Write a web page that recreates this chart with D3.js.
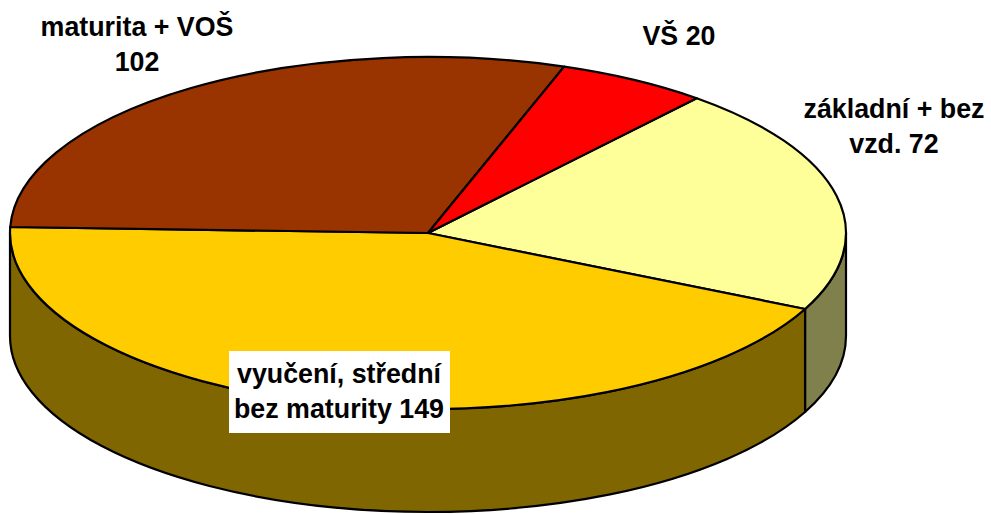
<!DOCTYPE html>
<html>
<head>
<meta charset="utf-8">
<script src="https://cdn.jsdelivr.net/npm/d3@7"></script>
<style>
  html, body { margin: 0; padding: 0; background: #fff; }
  svg { display: block; }
  .lbl { font-family: "Liberation Sans", Arial, sans-serif; font-weight: bold; font-size: 26.8px; fill: #000; }
</style>
</head>
<body>
<div id="chart"></div>
<script>
// data (sheet order)
var categories = ["základní + bez vzd.", "vyučení, střední bez maturity", "maturita + VOŠ", "VŠ"];
var values = [72, 149, 102, 20];
var topColors = ["#FFFF99", "#FFCC00", "#993300", "#FF0000"];
// label lines as shown on the chart
var labelLines = [
  ["základní + bez", "vzd. 72"],
  ["vyučení, střední", "bez maturity 149"],
  ["maturita + VOŠ", "102"],
  ["VŠ 20"]
];

var width = 991, height = 514;
var cx = 428, cy = 233, rx = 418, ry = 176, depth = 103;
var startDeg = 40;

// label anchor spots (centre x, first baseline y)
var labelPos = [[894, 118], [339, 383], [137, 36], [679, 45]];
var lineGap = 35;

var svg = d3.select("#chart").append("svg")
    .attr("width", width)
    .attr("height", height);

var pie = d3.pie().sort(null)
    .startAngle(startDeg * Math.PI / 180)
    .endAngle(startDeg * Math.PI / 180 + 2 * Math.PI);
var arcs = pie(values);

function px(a, dy) { return [cx + rx * Math.sin(a), cy - ry * Math.cos(a) + (dy || 0)]; }

// darker side colour (Excel uses ~50% shade)
function shade(c) {
  var col = d3.rgb(c);
  return d3.rgb(col.r * 0.5, col.g * 0.5, col.b * 0.5).formatHex();
}

// side walls - only the front half of the ellipse is visible
var walls = [];
arcs.forEach(function(d, i) {
  for (var k = 0; k < 2; k++) {
    var f0 = Math.PI / 2 + 2 * Math.PI * k, f1 = 3 * Math.PI / 2 + 2 * Math.PI * k;
    var b0 = Math.max(d.startAngle, f0), b1 = Math.min(d.endAngle, f1);
    if (b1 > b0) walls.push({i: i, b0: b0, b1: b1});
  }
});

svg.append("g").selectAll("path")
  .data(walls)
  .enter().append("path")
  .attr("d", function(w) {
    var t0 = px(w.b0), t1 = px(w.b1), u1 = px(w.b1, depth), u0 = px(w.b0, depth);
    return "M" + t0 + "A" + rx + "," + ry + " 0 0 1 " + t1 +
      "L" + u1 + "A" + rx + "," + ry + " 0 0 0 " + u0 + "Z";
  })
  .attr("fill", function(w) { return shade(topColors[w.i]); })
  .attr("stroke", "#000")
  .attr("stroke-width", 2.2)
  .attr("stroke-linejoin", "round");

// top faces
svg.append("g").selectAll("path")
  .data(arcs)
  .enter().append("path")
  .attr("d", function(d) {
    var p0 = px(d.startAngle), p1 = px(d.endAngle);
    var large = (d.endAngle - d.startAngle) > Math.PI ? 1 : 0;
    return "M" + cx + "," + cy + "L" + p0 + "A" + rx + "," + ry + " 0 " + large + " 1 " + p1 + "Z";
  })
  .attr("fill", function(d, i) { return topColors[i]; })
  .attr("stroke", "#000")
  .attr("stroke-width", 2.2)
  .attr("stroke-linejoin", "round");

// labels
var lg = svg.append("g");
labelLines.forEach(function(lines, i) {
  var g = lg.append("g");
  var t = g.append("text")
      .attr("class", "lbl")
      .attr("text-anchor", "middle");
  lines.forEach(function(s, j) {
    t.append("tspan")
      .attr("x", labelPos[i][0])
      .attr("y", labelPos[i][1] + j * lineGap)
      .text(s);
  });
  // the label sitting on the pie gets a white box
  if (i === 1) {
    var bb = t.node().getBBox();
    g.insert("rect", "text")
      .attr("x", 229)
      .attr("y", 351)
      .attr("width", 221)
      .attr("height", 82)
      .attr("fill", "#fff");
  }
});
</script>
</body>
</html>
